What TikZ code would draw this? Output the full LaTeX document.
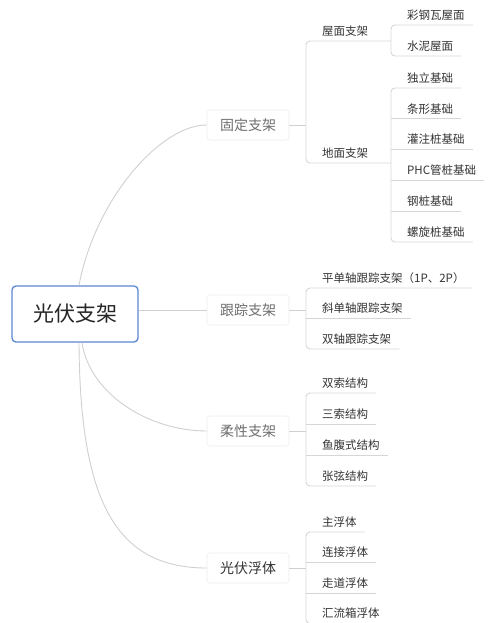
\documentclass[tikz,border=0pt]{standalone}
\usepackage{fontspec}
\newfontfamily\cjk{Noto Sans CJK SC}
\definecolor{lineg}{HTML}{D0D0D0}
\definecolor{ulg}{HTML}{D6D6D6}
\definecolor{rootblue}{HTML}{5A87D2}
\definecolor{tgray}{HTML}{6E6E6E}
\definecolor{tdark}{HTML}{333333}
\begin{document}
\begin{tikzpicture}[x=1pt,y=-1pt,
  rootbox/.style={draw=rootblue, line width=1.3pt, rounded corners=4pt, fill=white,
    minimum width=126pt, minimum height=56pt, inner sep=0pt,
    font=\cjk\fontsize{21}{24}\selectfont, text=black!85},
  topic/.style={draw=black!7, fill=white, rounded corners=3pt, line width=0.6pt,
    minimum width=82pt, minimum height=30pt, inner sep=0pt,
    font=\cjk\fontsize{14}{16}\selectfont, text=tgray},
  leaf/.style={anchor=south west, inner xsep=8pt, inner ysep=3pt,
    text height=9pt, text depth=2.5pt,
    font=\cjk\fontsize{11.5}{13}\selectfont, text=tdark},
  link/.style={draw=lineg, line width=0.9pt},
  uline/.style={draw=ulg, line width=0.9pt, rounded corners=4pt}]
\useasboundingbox (0,0) rectangle (500,623);
\coordinate (B1) at (306,0);
\coordinate (B2) at (391,0);

% main topics
\node[rootbox] (root) at (75,314) {光伏支架};
\node[topic] (gd) at (248,125) {固定支架};
\node[topic] (gz) at (248,310) {跟踪支架};
\node[topic] (rx) at (248,431) {柔性支架};
\node[topic, text=tdark] (ft) at (248,568) {光伏浮体};

% main curves
\draw[link] ([xshift=4pt]root.north) .. controls (95,200) and (160,125) .. (gd.west);
\draw[link] (root.east |- gz.west) -- (gz.west);
\draw[link] ([xshift=7pt]root.south) .. controls (90,395) and (150,431) .. (rx.west);
\draw[link] ([xshift=4pt]root.south) .. controls (80,500) and (115,568) .. (ft.west);

% ---------- 固定支架
\node[leaf] (wm) at (314,41) {屋面支架};
\node[leaf] (dm) at (314,163) {地面支架};
\draw[link] (gd.east) -- (B1 |- gd.east);
\draw[uline] (B2 |- wm.south) -- (B1 |- wm.south) -- (B1 |- dm.south) -- (B2 |- dm.south);

\node[leaf] (c1) at (399,25) {彩钢瓦屋面};
\node[leaf] (c2) at (399,56) {水泥屋面};
\draw[uline] (c1.south east) -- (B2 |- c1.south) -- (B2 |- c2.south) -- (c2.south east);

\node[leaf] (d1) at (399,88) {独立基础};
\node[leaf] (d2) at (399,118.8) {条形基础};
\node[leaf] (d3) at (399,149.6) {灌注桩基础};
\node[leaf] (d4) at (399,180.4) {PHC管桩基础};
\node[leaf] (d5) at (399,211.2) {钢桩基础};
\node[leaf] (d6) at (399,242) {螺旋桩基础};
\draw[uline] (d1.south east) -- (B2 |- d1.south) -- (B2 |- d6.south) -- (d6.south east);
\foreach \n in {d2,d3,d4,d5} \draw[uline] (B2 |- \n.south) -- (\n.south east);

% ---------- 跟踪支架
\node[leaf] (g1) at (314,288) {平单轴跟踪支架（1P、2P）};
\node[leaf] (g2) at (314,318.5) {斜单轴跟踪支架};
\node[leaf] (g3) at (314,349) {双轴跟踪支架};
\draw[link] (gz.east) -- (B1 |- gz.east);
\draw[uline] (g1.south east) -- (B1 |- g1.south) -- (B1 |- g3.south) -- (g3.south east);
\draw[uline] (B1 |- g2.south) -- (g2.south east);

% ---------- 柔性支架
\node[leaf] (r1) at (314,393) {双索结构};
\node[leaf] (r2) at (314,424) {三索结构};
\node[leaf] (r3) at (314,455) {鱼腹式结构};
\node[leaf] (r4) at (314,486) {张弦结构};
\draw[link] (rx.east) -- (B1 |- rx.east);
\draw[uline] (r1.south east) -- (B1 |- r1.south) -- (B1 |- r4.south) -- (r4.south east);
\foreach \n in {r2,r3} \draw[uline] (B1 |- \n.south) -- (\n.south east);

% ---------- 光伏浮体
\node[leaf] (f1) at (314,532) {主浮体};
\node[leaf] (f2) at (314,562.5) {连接浮体};
\node[leaf] (f3) at (314,593) {走道浮体};
\node[leaf] (f4) at (314,623.5) {汇流箱浮体};
\draw[link] (ft.east) -- (B1 |- ft.east);
\draw[uline] (f1.south east) -- (B1 |- f1.south) -- (B1 |- f4.south) -- (f4.south east);
\foreach \n in {f2,f3} \draw[uline] (B1 |- \n.south) -- (\n.south east);
\end{tikzpicture}
\end{document}
